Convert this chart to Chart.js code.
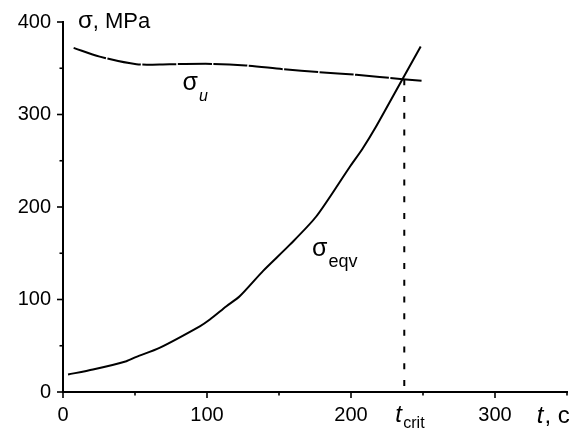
<!DOCTYPE html>
<html><head><meta charset="utf-8">
<script src="https://cdn.jsdelivr.net/npm/chart.js"></script>
<style>html,body{margin:0;padding:0;background:#fff;overflow:hidden}#wrap{width:580px;height:428px;position:relative}</style>
</head><body><div id="wrap"><canvas id="c" width="580" height="428"></canvas></div>
<script>
// time, s
const sigmaU_t   = [7.4, 25.5, 51, 74, 104, 127, 152.8, 178, 203.7, 236, 249];
const sigmaU     = [372, 362.6, 354.4, 354.4, 354.7, 353, 349, 345.8, 342.9, 338.2, 336.4];
const sigmaEqv_t = [3.5, 20.8, 44, 51, 67, 95, 102, 113.5, 122.7, 139, 157.4, 176, 199, 208, 216.5, 236, 248.4];
const sigmaEqv   = [18.9, 24.3, 33.3, 38, 47.7, 71, 78.3, 92.7, 103.5, 131, 159, 190, 243, 263, 284.5, 339, 373.4];
const tCrit = 237;
const sigmaCrit = 338;
const xTickLabels = [0, 100, 200, 300];
const yTickLabels = [0, 100, 200, 300, 400];

const FONT = '"Liberation Sans", Arial, Helvetica, sans-serif';
const toPts = (xs, ys) => xs.map((x, i) => ({x, y: ys[i]}));

const tickPlugin = {
  id: 'ticks',
  afterDraw(chart) {
    const ctx = chart.ctx;
    const xs = chart.scales.x, ys = chart.scales.y;
    ctx.save();
    ctx.strokeStyle = '#000';
    ctx.lineWidth = 1.6;
    const yAxisX = chart.chartArea.left;
    const xAxisY = chart.chartArea.bottom;
    ys.ticks.forEach(t => {
      const major = yTickLabels.includes(t.value);
      const p = ys.getPixelForValue(t.value);
      ctx.beginPath(); ctx.moveTo(yAxisX, p); ctx.lineTo(yAxisX - (major ? 6 : 3.5), p); ctx.stroke();
    });
    xs.ticks.forEach(t => {
      const major = xTickLabels.includes(t.value);
      const p = xs.getPixelForValue(t.value);
      ctx.beginPath(); ctx.moveTo(p, xAxisY); ctx.lineTo(p, xAxisY + (major ? 6 : 3.5)); ctx.stroke();
    });
    ctx.restore();
  }
};

const textPlugin = {
  id: 'texts',
  afterDraw(chart) {
    const ctx = chart.ctx;
    const xs = chart.scales.x, ys = chart.scales.y;
    const ca = chart.chartArea;
    ctx.save();
    ctx.fillStyle = '#000';
    ctx.textBaseline = 'alphabetic';
    ctx.textAlign = 'left';
    const put = (s, x, y, f) => { ctx.font = f; ctx.fillText(s, x, y); return ctx.measureText(s).width; };
    // y axis title
    let x0 = ca.left + 15, y0 = ca.top + 6;
    let w = put('σ', x0, y0, '24px ' + FONT);
    put(', MPa', x0 + w, y0, '22px ' + FONT);
    // sigma_u label
    x0 = xs.getPixelForValue(83); y0 = ys.getPixelForValue(327);
    w = put('σ', x0, y0, '25px ' + FONT);
    put('u', x0 + w + 1, y0 + 11, 'italic 16px ' + FONT);
    // sigma_eqv label
    x0 = xs.getPixelForValue(173); y0 = ys.getPixelForValue(147);
    w = put('σ', x0, y0, '25px ' + FONT);
    put('eqv', x0 + w + 1, y0 + 11, '18px ' + FONT);
    // t_crit
    x0 = xs.getPixelForValue(tCrit) - 9; y0 = ca.bottom + 30;
    put('t', x0, y0, 'italic 24px ' + FONT);
    put('crit', x0 + 8, y0 + 6, '16px ' + FONT);
    // x axis title
    x0 = xs.getPixelForValue(329); y0 = ca.bottom + 31;
    w = put('t', x0, y0, 'italic 24px ' + FONT);
    put(', c', x0 + w + 1, y0, '24px ' + FONT);
    ctx.restore();
  }
};

new Chart(document.getElementById('c'), {
  type: 'scatter',
  data: {
    datasets: [
      { label: 'σu', data: toPts(sigmaU_t, sigmaU), showLine: true, borderColor: '#000', borderWidth: 2,
        pointRadius: 0, tension: 0.3, borderDash: [34, 1.5], fill: false },
      { label: 'σeqv', data: toPts(sigmaEqv_t, sigmaEqv), showLine: true, borderColor: '#000', borderWidth: 2,
        pointRadius: 0, tension: 0.25, fill: false },
      { label: 'tcrit', data: [{x: tCrit, y: sigmaCrit}, {x: tCrit, y: 0}], showLine: true, borderColor: '#000',
        borderWidth: 2, pointRadius: 0, borderDash: [6, 10.7], fill: false }
    ]
  },
  options: {
    responsive: false,
    animation: false,
    devicePixelRatio: 1,
    layout: { padding: { top: 22, right: 13, left: 0, bottom: 0 } },
    plugins: { legend: { display: false }, tooltip: { enabled: false } },
    scales: {
      x: {
        type: 'linear', min: 0, max: 350,
        ticks: { stepSize: 50, autoSkip: false, maxRotation: 0, color: '#000', padding: 5,
          font: { family: FONT, size: 20 },
          callback: v => xTickLabels.includes(v) ? String(v) : '' },
        grid: { display: true, drawOnChartArea: false, drawTicks: true, tickLength: 6, color: 'rgba(0,0,0,0)' },
        border: { display: true, color: '#000', width: 2 },
        afterFit: s => { s.height = 36; }
      },
      y: {
        type: 'linear', min: 0, max: 400,
        ticks: { stepSize: 50, autoSkip: false, color: '#000', padding: 6,
          font: { family: FONT, size: 20 },
          callback: v => yTickLabels.includes(v) ? String(v) : '' },
        grid: { display: true, drawOnChartArea: false, drawTicks: true, tickLength: 6, color: 'rgba(0,0,0,0)' },
        border: { display: true, color: '#000', width: 2 },
        afterFit: s => { s.width = 63; }
      }
    }
  },
  plugins: [tickPlugin, textPlugin]
});
</script>
</body></html>
